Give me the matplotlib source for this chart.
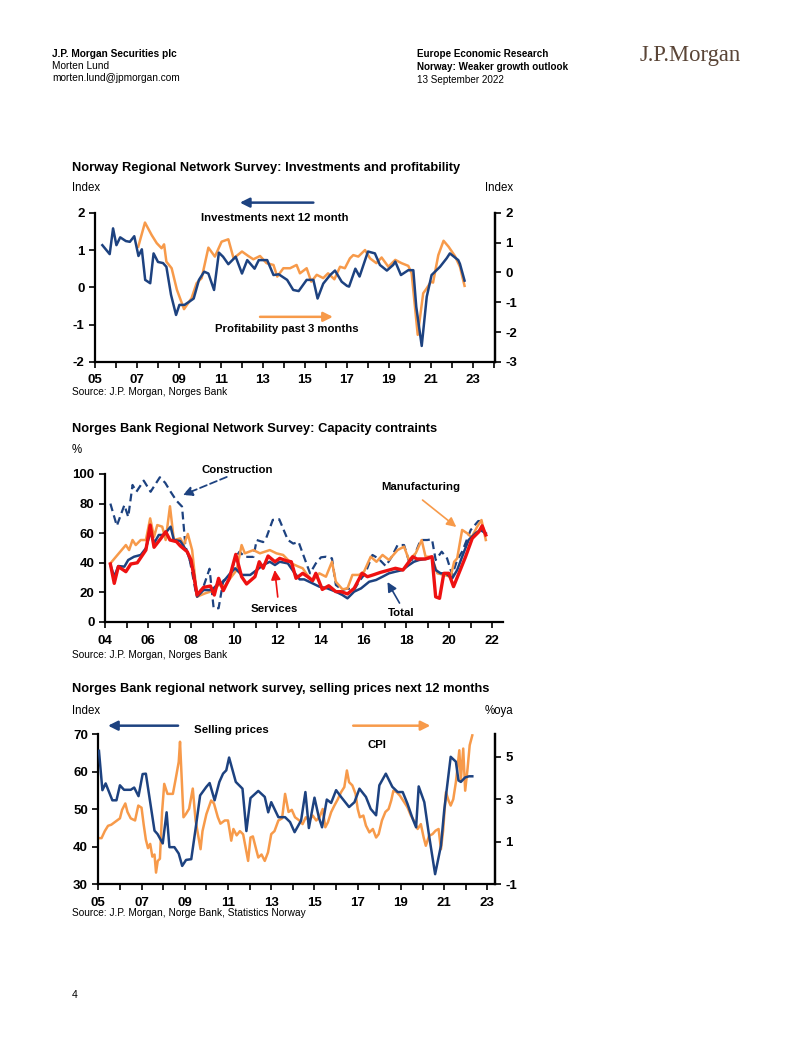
import matplotlib
matplotlib.use("Agg")
import matplotlib.pyplot as plt
import numpy as np

plt.rcParams['font.family'] = ['Liberation Sans', 'DejaVu Sans']
plt.rcParams['axes.unicode_minus'] = False

NAVY = "#1d4280"
ORANGE = "#f79a4a"
RED = "#ee1111"
W, H = 802, 1037

# ---- chart 1: investments (left) / profitability (right)
inv_yr = [2005.35, 2005.7, 2005.86, 2006.02, 2006.2, 2006.47, 2006.66, 2006.87, 2007.07, 2007.23,
          2007.39, 2007.63, 2007.79, 2008.0, 2008.24, 2008.4, 2008.62, 2008.86, 2009.02, 2009.26,
          2009.5, 2009.7, 2009.95, 2010.2, 2010.4, 2010.67, 2010.9, 2011.1, 2011.35, 2011.7,
          2012.0, 2012.25, 2012.6, 2012.8, 2013.2, 2013.5, 2013.75, 2014.15, 2014.44, 2014.7,
          2015.08, 2015.4, 2015.6, 2015.87, 2016.2, 2016.43, 2016.75, 2017.0, 2017.1, 2017.4,
          2017.6, 2018.0, 2018.33, 2018.57, 2018.9, 2019.2, 2019.3, 2019.57, 2019.92, 2020.16,
          2020.3, 2020.56, 2020.8, 2021.03, 2021.43, 2021.75, 2021.9, 2022.3, 2022.38, 2022.6]
inv_val = [1.13, 0.89, 1.58, 1.13, 1.34, 1.24, 1.22, 1.37, 0.84, 1.02,
           0.2, 0.11, 0.91, 0.68, 0.65, 0.55, -0.2, -0.74, -0.47, -0.47,
           -0.38, -0.3, 0.2, 0.42, 0.37, -0.07, 0.93, 0.82, 0.62, 0.82,
           0.37, 0.73, 0.5, 0.73, 0.73, 0.33, 0.35, 0.2, -0.07, -0.1,
           0.2, 0.2, -0.3, 0.1, 0.33, 0.45, 0.15, 0.04, 0.02, 0.5,
           0.29, 0.96, 0.91, 0.6, 0.45, 0.6, 0.69, 0.33, 0.46, 0.46,
           -0.52, -1.57, -0.25, 0.33, 0.55, 0.78, 0.91, 0.73, 0.63, 0.18]
prof_yr = [2007.06, 2007.38, 2007.7, 2007.94, 2008.17, 2008.29, 2008.4, 2008.65, 2008.9, 2009.24,
           2009.6, 2009.84, 2010.08, 2010.4, 2010.71, 2011.03, 2011.35, 2011.6, 2012.0, 2012.3,
           2012.54, 2012.86, 2013.17, 2013.5, 2013.68, 2013.97, 2014.29, 2014.6, 2014.76, 2015.08,
           2015.3, 2015.56, 2015.87, 2016.1, 2016.4, 2016.67, 2016.9, 2017.14, 2017.3, 2017.54,
           2017.86, 2018.1, 2018.4, 2018.65, 2018.97, 2019.3, 2019.6, 2019.92, 2020.08, 2020.37,
           2020.63, 2020.8, 2021.0, 2021.1, 2021.35, 2021.6, 2021.84, 2022.14, 2022.38, 2022.6]
prof_val = [0.86, 1.67, 1.25, 0.98, 0.81, 0.94, 0.36, 0.14, -0.58, -1.23,
            -0.86, -0.36, -0.19, 0.83, 0.53, 1.03, 1.11, 0.47, 0.7, 0.55,
            0.44, 0.55, 0.31, 0.25, -0.14, 0.14, 0.14, 0.25, -0.03, 0.14,
            -0.31, -0.08, -0.19, -0.03, -0.23, 0.19, 0.14, 0.47, 0.58, 0.53,
            0.75, 0.47, 0.31, 0.5, 0.19, 0.42, 0.31, 0.22, -0.03, -2.09,
            -0.7, -0.53, -0.31, -0.34, 0.58, 1.06, 0.86, 0.55, 0.19, -0.45]

# ---- chart 2: capacity constraints (%)
con_yr = [2004.25, 2004.55, 2004.9, 2005.08, 2005.28, 2005.46, 2005.8, 2006.12, 2006.55, 2006.8,
          2007.05, 2007.32, 2007.58, 2007.74, 2007.94, 2008.25, 2008.58, 2008.86, 2009.05, 2009.28,
          2009.5, 2009.82, 2010.05, 2010.25, 2010.5, 2010.9, 2011.05, 2011.35, 2011.5, 2011.8,
          2012.1, 2012.5, 2012.75, 2013.0, 2013.19, 2013.53, 2013.8, 2014.04, 2014.27, 2014.55,
          2014.73, 2015.04, 2015.27, 2015.58, 2015.8, 2016.1, 2016.43, 2016.7, 2017.05, 2017.33,
          2017.6, 2017.9, 2018.16, 2018.36, 2018.67, 2018.98, 2019.2, 2019.37, 2019.65, 2019.9,
          2020.14, 2020.37, 2020.6, 2021.0, 2021.35, 2021.6]
con_val = [80, 65, 79, 71, 92.6, 88, 95.5, 88, 97.8, 94,
           88, 82, 78, 51, 42, 17.8, 24, 36, 9.3, 9.3,
           28, 30.6, 43, 47.5, 44, 44, 55.4, 54, 57, 69,
           69.4, 55.4, 53, 54, 46.4, 32.9, 39.6, 43.7, 44.1, 43,
           25, 21.6, 22.7, 21.6, 27.2, 32.9, 45.3, 43, 37.8, 44.1,
           52, 52, 39.6, 44.1, 55.4, 55.4, 55.9, 41.9, 47.5, 43,
           31.8, 41.9, 47.5, 62.2, 68.2, 68.2]
tot_yr = [2004.25, 2004.43, 2004.62, 2004.9, 2005.08, 2005.35, 2005.66, 2005.9, 2006.12, 2006.28,
          2006.5, 2006.74, 2007.05, 2007.2, 2007.5, 2007.82, 2008.12, 2008.28, 2008.58, 2008.97,
          2009.2, 2009.5, 2009.82, 2010.05, 2010.35, 2010.75, 2011.05, 2011.35, 2011.66, 2011.9,
          2012.12, 2012.5, 2012.82, 2013.05, 2013.26, 2013.65, 2013.96, 2014.34, 2014.73, 2015.04,
          2015.27, 2015.58, 2015.9, 2016.28, 2016.6, 2016.9, 2017.2, 2017.5, 2017.82, 2018.13,
          2018.36, 2018.6, 2018.9, 2019.2, 2019.37, 2019.6, 2019.83, 2020.14, 2020.37, 2020.6,
          2020.9, 2021.22, 2021.45, 2021.7]
tot_val = [38.5, 30.6, 37.8, 37.4, 41.9, 44.1, 45.3, 49.8, 61, 53.2,
           58.8, 58.8, 64.4, 55.4, 54.7, 47.5, 34, 17.1, 21.6, 21.6,
           25, 27.2, 32.9, 36.3, 31.8, 31.8, 35.1, 38.5, 40.7, 38.5,
           40.7, 39.6, 32.9, 28.8, 28.8, 26.1, 23.9, 22.7, 20.5, 18.2,
           16, 20.5, 22.7, 27.2, 28.4, 30.6, 32.9, 34, 35.1, 38.5,
           40.7, 41.9, 42.6, 43.7, 35.1, 32.9, 32.9, 29.5, 35.1, 44.1,
           55.4, 59.9, 62.2, 59.9]
man_yr = [2004.25, 2004.58, 2004.97, 2005.12, 2005.28, 2005.43, 2005.66, 2005.9, 2006.1, 2006.28,
          2006.43, 2006.66, 2006.82, 2007.02, 2007.2, 2007.5, 2007.66, 2007.85, 2008.05, 2008.28,
          2008.66, 2009.05, 2009.28, 2009.58, 2009.82, 2010.12, 2010.35, 2010.5, 2010.9, 2011.2,
          2011.66, 2011.97, 2012.28, 2012.66, 2013.0, 2013.19, 2013.4, 2013.65, 2013.96, 2014.27,
          2014.55, 2014.73, 2015.04, 2015.27, 2015.5, 2015.8, 2016.04, 2016.35, 2016.62, 2016.9,
          2017.2, 2017.6, 2017.9, 2018.13, 2018.44, 2018.72, 2018.9, 2019.18, 2019.45, 2019.75,
          2020.07, 2020.23, 2020.37, 2020.6, 2020.84, 2021.04, 2021.3, 2021.5, 2021.7]
man_val = [39.6, 45.3, 52, 48.6, 55.4, 52, 55.4, 55.4, 70, 57.6,
           65.5, 64.4, 55.4, 78.2, 55.4, 56.5, 52, 59.5, 48.6, 17.1,
           19.4, 21.2, 25, 24.1, 29.5, 35.1, 52, 46.4, 48.6, 46.4,
           48.6, 46.4, 45.3, 39.6, 37.4, 36.3, 31.8, 27.9, 32.9, 30.6,
           40.7, 27.2, 22.1, 22.7, 31.8, 31.8, 34, 44.1, 40.7, 45.3,
           41.9, 48.6, 50.9, 41.9, 46.4, 55.4, 44.1, 44.1, 32.9, 31.8,
           30.6, 40.7, 43, 62.2, 59.9, 57.1, 64.4, 68.9, 55.4]
ser_yr = [2004.25, 2004.43, 2004.62, 2004.97, 2005.2, 2005.5, 2005.9, 2006.1, 2006.28, 2006.6,
          2006.82, 2007.02, 2007.32, 2007.5, 2007.82, 2008.0, 2008.28, 2008.58, 2008.9, 2009.08,
          2009.28, 2009.5, 2009.78, 2010.08, 2010.35, 2010.58, 2010.97, 2011.17, 2011.35, 2011.58,
          2011.9, 2012.12, 2012.43, 2012.66, 2012.88, 2013.19, 2013.42, 2013.65, 2013.8, 2014.1,
          2014.4, 2014.73, 2014.97, 2015.27, 2015.58, 2015.95, 2016.2, 2016.5, 2016.8, 2017.2,
          2017.5, 2017.85, 2018.3, 2018.5, 2018.9, 2019.2, 2019.37, 2019.55, 2019.75, 2019.98,
          2020.2, 2020.45, 2020.76, 2021.07, 2021.38, 2021.53, 2021.7]
ser_val = [39.2, 26.1, 37.4, 34, 39.2, 40, 48.6, 65.5, 50.5, 56.5,
           61, 55.4, 54.3, 51.4, 47.5, 41.9, 18.2, 23.4, 24.3, 18.2,
           29.5, 21.2, 29.5, 45.7, 30.6, 25.7, 30.6, 40.7, 36.3, 44.6,
           40.7, 43, 41.4, 40.7, 29.5, 32.9, 30.6, 27.9, 32.9, 22,
           24.5, 20.5, 20.5, 19, 22.7, 32.9, 30.6, 32, 33.5, 35.1,
           36.3, 35.1, 44.1, 42.6, 42.6, 44.1, 17, 16, 32.9, 32.9,
           23.9, 32.9, 44.1, 56.5, 61, 65, 58.8]

# ---- chart 3: selling prices (left) / CPI (right)
sp_yr = [2005.03, 2005.19, 2005.34, 2005.65, 2005.84, 2006.0, 2006.19, 2006.5, 2006.66, 2006.86,
         2007.05, 2007.2, 2007.6, 2007.74, 2007.98, 2008.16, 2008.29, 2008.52, 2008.72, 2008.88,
         2009.06, 2009.3, 2009.5, 2009.71, 2010.0, 2010.15, 2010.38, 2010.6, 2010.77, 2010.92,
         2011.05, 2011.36, 2011.67, 2011.85, 2012.04, 2012.4, 2012.7, 2012.86, 2013.0, 2013.33,
         2013.64, 2013.87, 2014.08, 2014.38, 2014.58, 2014.74, 2015.0, 2015.2, 2015.35, 2015.57,
         2015.77, 2016.0, 2016.23, 2016.6, 2016.85, 2017.08, 2017.38, 2017.6, 2017.85, 2018.0,
         2018.3, 2018.6, 2018.85, 2019.08, 2019.3, 2019.54, 2019.7, 2019.82, 2020.08, 2020.3,
         2020.58, 2020.85, 2021.0, 2021.3, 2021.54, 2021.66, 2021.77, 2021.97, 2022.15, 2022.3]
sp_val = [65.6, 55.1, 56.9, 52.4, 52.4, 56.4, 55.2, 55.2, 55.8, 53.5,
          59.4, 59.5, 44.3, 43.4, 40.9, 49.2, 39.9, 39.9, 38.2, 34.9,
          36.5, 36.7, 44.8, 53.7, 56, 57, 52.4, 57.3, 59.5, 60.4,
          63.8, 57.3, 55.5, 44.2, 53, 54.9, 53.3, 49.2, 51.9, 47.9,
          47.9, 46.6, 43.9, 47, 54.6, 45, 53.1, 47.9, 45.2, 52.6,
          51.7, 55.1, 53.3, 50.6, 51.9, 55.5, 53.3, 50.1, 48.4, 56.4,
          59.5, 56, 54.6, 54.6, 51.5, 47.5, 45.2, 56.1, 51.9, 43,
          32.7, 40.3, 49.7, 64, 62.7, 57.7, 57.3, 58.5, 58.8, 58.8]
cpi_yr = [2005.0, 2005.15, 2005.3, 2005.45, 2005.6, 2005.8, 2006.0, 2006.1, 2006.25, 2006.35,
          2006.5, 2006.7, 2006.85, 2007.0, 2007.1, 2007.2, 2007.3, 2007.4, 2007.5, 2007.6,
          2007.67, 2007.75, 2007.85, 2007.95, 2008.05, 2008.2, 2008.45, 2008.57, 2008.72, 2008.78,
          2008.94, 2009.05, 2009.2, 2009.37, 2009.5, 2009.73, 2009.82, 2010.0, 2010.22, 2010.35,
          2010.53, 2010.65, 2010.85, 2011.0, 2011.15, 2011.25, 2011.4, 2011.55, 2011.7, 2011.93,
          2012.04, 2012.15, 2012.28, 2012.4, 2012.55, 2012.7, 2012.85, 2013.0, 2013.15, 2013.33,
          2013.5, 2013.64, 2013.8, 2013.95, 2014.1, 2014.3, 2014.45, 2014.6, 2014.75, 2014.92,
          2015.08, 2015.23, 2015.38, 2015.5, 2015.62, 2015.77, 2015.92, 2016.08, 2016.23, 2016.38,
          2016.5, 2016.6, 2016.75, 2016.9, 2017.0, 2017.1, 2017.26, 2017.38, 2017.54, 2017.7,
          2017.85, 2017.97, 2018.12, 2018.28, 2018.43, 2018.55, 2018.65, 2018.8, 2018.95, 2019.15,
          2019.3, 2019.46, 2019.6, 2019.77, 2019.92, 2020.05, 2020.15, 2020.3, 2020.46, 2020.6,
          2020.74, 2020.85, 2020.95, 2021.08, 2021.2, 2021.3, 2021.42, 2021.54, 2021.6, 2021.7,
          2021.77, 2021.88, 2021.97, 2022.08, 2022.18, 2022.3]
cpi_val = [1.17, 1.17, 1.5, 1.75, 1.8, 1.95, 2.1, 2.5, 2.8, 2.4,
           2.1, 2.0, 2.7, 2.6, 1.8, 1.1, 0.7, 0.9, 0.3, 0.4,
           -0.45, 0.1, 0.2, 2.4, 3.72, 3.25, 3.25, 3.9, 4.75, 5.7,
           2.15, 2.3, 2.55, 3.5, 2.0, 0.65, 1.5, 2.3, 2.94, 2.8,
           2.15, 1.85, 2.0, 2.0, 1.05, 1.6, 1.3, 1.5, 1.35, 0.1,
           1.2, 1.25, 0.73, 0.26, 0.4, 0.1, 0.5, 1.36, 1.5, 2.0,
           2.1, 3.25, 2.4, 2.5, 2.15, 2.0, 1.83, 2.15, 2.0, 2.23,
           2.0, 2.15, 2.54, 1.68, 1.91, 2.39, 2.7, 3.0, 3.33, 3.57,
           4.35, 3.8, 3.65, 3.25, 2.54, 2.15, 2.23, 1.76, 1.44, 1.6,
           1.2, 1.36, 2.0, 2.4, 2.54, 2.94, 3.4, 3.33, 3.17, 2.86,
           2.62, 2.23, 2.0, 1.6, 1.83, 1.2, 0.81, 1.28, 1.36, 1.52,
           1.6, 0.65, 1.52, 3.33, 2.94, 2.7, 3.0, 3.8, 4.35, 5.3,
           3.88, 5.38, 3.4, 4.43, 5.54, 6.0]

TITLE_FS = 9.3
NOTE_FS = 8.2


def fpos(x, y):
    return x / W, 1 - y / H


def axrect(x0, y0, x1, y1):
    return [x0 / W, 1 - y1 / H, (x1 - x0) / W, (y1 - y0) / H]


def ftext(x, y, s, **kw):
    fx, fy = fpos(x, y)
    kw.setdefault("va", "center")
    fig.text(fx, fy, s, **kw)


def style_x(ax, y0, y1, first_lab):
    yrs = np.arange(y0, y1 + 1)
    ax.set_xticks(yrs)
    ax.set_xticklabels([f"{y % 100:02d}" if (y - first_lab) % 2 == 0 else "" for y in yrs])
    ax.tick_params(axis="x", direction="out", length=4, width=1.2, pad=5,
                   labelsize=9.5)
    for lab in ax.get_xticklabels():
        lab.set_fontweight("bold")


def style_y(ax):
    ax.tick_params(axis="y", direction="out", length=4, width=1.2, labelsize=9.5)
    for lab in ax.get_yticklabels():
        lab.set_fontweight("bold")


def spines(ax, right=False):
    ax.spines["top"].set_visible(False)
    ax.spines["right"].set_visible(right)
    for s in ("left", "bottom", "right"):
        ax.spines[s].set_linewidth(1.6)


def arrow(ax, head, tail, color, lw=1.8, ls="-"):
    ax.annotate("", xy=head, xytext=tail, annotation_clip=False,
                arrowprops=dict(arrowstyle="-|>", color=color, lw=lw, ls=ls,
                                mutation_scale=14, shrinkA=0, shrinkB=0))


fig = plt.figure(figsize=(W / 100, H / 100), dpi=100)

# header
ftext(52, 54, "J.P. Morgan Securities plc", fontsize=7.3, fontweight="bold")
ftext(52, 66, "Morten Lund", fontsize=7.3)
ftext(52, 78, "morten.lund@jpmorgan.com", fontsize=7.3)
ftext(417, 54, "Europe Economic Research", fontsize=7.1, fontweight="bold")
ftext(417, 67, "Norway: Weaker growth outlook", fontsize=7.1, fontweight="bold")
ftext(417, 80, "13 September 2022", fontsize=7.1)
ftext(640, 56, "J.P.Morgan", fontsize=16.3, family=["Liberation Serif", "DejaVu Serif"],
      color="#5a4537")
ftext(72, 995, "4", fontsize=7.5)

# ---------------- chart 1
ax1 = fig.add_axes(axrect(95, 212.7, 495, 362))
ax1.plot(inv_yr, inv_val, color=NAVY, lw=1.8, zorder=3)
ax1.set_xlim(2005, 2024.05)
ax1.set_ylim(-2, 2)
ax1.set_yticks([-2, -1, 0, 1, 2])
spines(ax1, right=True)
style_x(ax1, 2005, 2024, 2005)
style_y(ax1)
ax1r = ax1.twinx()
ax1r.plot(prof_yr, prof_val, color=ORANGE, lw=1.8, zorder=2)
ax1r.set_ylim(-3, 2)
ax1r.set_yticks([-3, -2, -1, 0, 1, 2])
spines(ax1r, right=True)
ax1r.spines["left"].set_visible(False)
ax1r.spines["bottom"].set_visible(False)
style_y(ax1r)
ax1.set_zorder(ax1r.get_zorder() + 1)
ax1.patch.set_visible(False)

arrow(ax1, (2011.9, 2.27), (2015.4, 2.27), NAVY)
ax1.text(2013.55, 1.85, "Investments next 12 month", ha="center", va="center",
         fontsize=NOTE_FS, fontweight="bold")
arrow(ax1, (2016.33, -0.79), (2012.86, -0.79), ORANGE)
ax1.text(2014.14, -1.11, "Profitability past 3 months", ha="center", va="center",
         fontsize=NOTE_FS, fontweight="bold")

ftext(72, 168, "Norway Regional Network Survey: Investments and profitability",
      fontsize=TITLE_FS, fontweight="bold")
ftext(72, 188, "Index", fontsize=8.3)
ftext(513, 188, "Index", fontsize=8.3, ha="right")
ftext(72, 392, "Source: J.P. Morgan, Norges Bank", fontsize=7.3)

# ---------------- chart 2
ax2 = fig.add_axes(axrect(105, 474, 503, 622))
ax2.plot(con_yr, con_val, color=NAVY, lw=1.6, ls=(0, (3.5, 2)))
ax2.plot(man_yr, man_val, color=ORANGE, lw=1.8)
ax2.plot(tot_yr, tot_val, color=NAVY, lw=1.8)
ax2.plot(ser_yr, ser_val, color=RED, lw=2.4)
ax2.set_xlim(2004, 2022.5)
ax2.set_ylim(0, 100)
ax2.set_yticks(range(0, 101, 20))
spines(ax2)
style_x(ax2, 2004, 2022, 2004)
style_y(ax2)

ax2.text(2010.15, 102.7, "Construction", ha="center", va="center", fontsize=NOTE_FS,
         fontweight="bold", clip_on=False)
arrow(ax2, (2007.62, 85.8), (2009.66, 98), NAVY, lw=1.3, ls=(0, (4, 2)))
ax2.text(2018.66, 91.2, "Manufacturing", ha="center", va="center", fontsize=NOTE_FS,
         fontweight="bold")
arrow(ax2, (2020.33, 64.2), (2018.76, 82.4), ORANGE, lw=1.2)
ax2.text(2011.89, 8.8, "Services", ha="center", va="center", fontsize=NOTE_FS,
         fontweight="bold")
arrow(ax2, (2011.89, 35.1), (2012.03, 16.9), RED, lw=1.2)
ax2.text(2017.76, 6.1, "Total", ha="center", va="center", fontsize=NOTE_FS,
         fontweight="bold")
arrow(ax2, (2017.13, 27), (2017.69, 12.8), NAVY, lw=1.2)

ftext(72, 429, "Norges Bank Regional Network Survey: Capacity contraints",
      fontsize=TITLE_FS, fontweight="bold")
ftext(72, 450, "%", fontsize=8.3)
ftext(72, 655, "Source: J.P. Morgan, Norges Bank", fontsize=7.3)

# ---------------- chart 3
ax3 = fig.add_axes(axrect(98.3, 734.3, 495, 884.3))
ax3.plot(sp_yr, sp_val, color=NAVY, lw=1.8, zorder=3)
ax3.set_xlim(2005, 2023.35)
ax3.set_ylim(30, 70)
ax3.set_yticks(range(30, 71, 10))
spines(ax3, right=True)
style_x(ax3, 2005, 2023, 2005)
style_y(ax3)
ax3r = ax3.twinx()
ax3r.plot(cpi_yr, cpi_val, color=ORANGE, lw=1.8, zorder=2)
ax3r.set_ylim(-1, 6.05)
ax3r.set_yticks([-1, 1, 3, 5])
spines(ax3r, right=True)
ax3r.spines["left"].set_visible(False)
ax3r.spines["bottom"].set_visible(False)
style_y(ax3r)
ax3.set_zorder(ax3r.get_zorder() + 1)
ax3.patch.set_visible(False)

arrow(ax3, (2005.45, 72.3), (2008.69, 72.3), NAVY)
ax3.text(2011.17, 71.1, "Selling prices", ha="center", va="center", fontsize=NOTE_FS,
         fontweight="bold", clip_on=False)
arrow(ax3, (2020.36, 72.3), (2016.79, 72.3), ORANGE)
ax3.text(2017.9, 67.1, "CPI", ha="center", va="center", fontsize=NOTE_FS, fontweight="bold")

ftext(72, 689, "Norges Bank regional network survey, selling prices next 12 months",
      fontsize=TITLE_FS, fontweight="bold")
ftext(72, 711, "Index", fontsize=8.3)
ftext(513, 711, "%oya", fontsize=8.3, ha="right")
ftext(72, 913, "Source: J.P. Morgan, Norge Bank, Statistics Norway", fontsize=7.3)

fig.savefig("out.png", dpi=100)
